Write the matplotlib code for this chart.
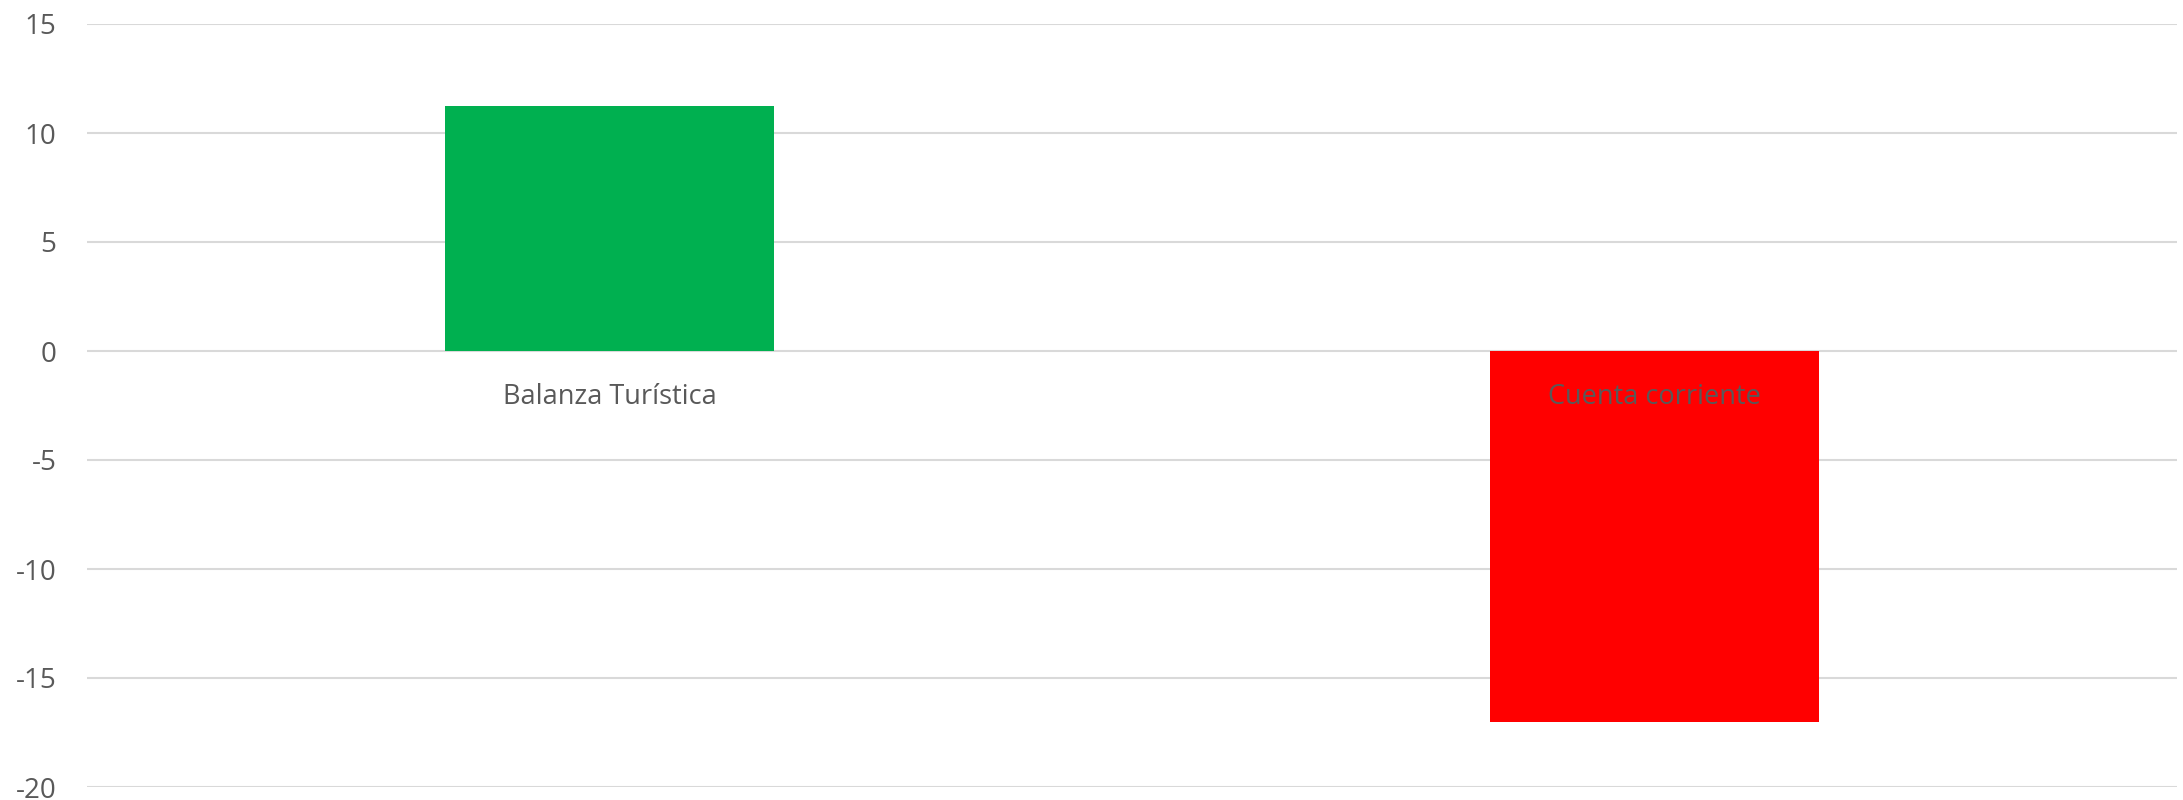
import matplotlib.pyplot as plt

categories = ["Balanza Turística", "Cuenta corriente"]
values = [11.25, -17.0]
colors = ["#00b050", "#ff0000"]
yticks = [-20, -15, -10, -5, 0, 5, 10, 15]

plt.rcParams['font.family'] = ['Open Sans', 'DejaVu Sans']

fig = plt.figure(figsize=(21.83, 8), dpi=100)
ax = fig.add_axes([87 / 2183, 13 / 800, 2090 / 2183, 763 / 800])

x = list(range(len(categories)))
ax.bar(x, values, width=0.314, color=colors, zorder=2)

ax.set_xlim(-0.5, len(categories) - 0.5)
ax.set_ylim(-20, 15)
ax.set_yticks(yticks)
ax.set_yticklabels([str(t) for t in yticks], fontsize=20, color='#595959')
ax.set_xticks([])
ax.tick_params(axis='y', length=0, pad=22)
ax.yaxis.grid(True, color='#d9d9d9', linewidth=1.5, zorder=0)
for s in ax.spines.values():
    s.set_visible(False)

for i, name in enumerate(categories):
    ax.annotate(name, (i, 0), xytext=(0, -33), textcoords='offset points',
                ha='center', va='center', fontsize=19.5, color='#595959', zorder=3)

fig.savefig("out.png", dpi=100)
